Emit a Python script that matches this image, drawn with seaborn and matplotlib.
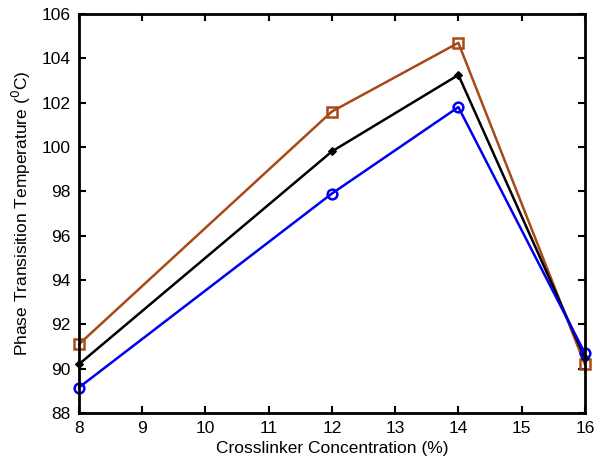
import matplotlib
matplotlib.use("Agg")
import matplotlib.pyplot as plt
import seaborn as sns
import pandas as pd

concentration = [8, 12, 14, 16]
series_a = [91.1, 101.6, 104.7, 90.2]   # brown squares
series_b = [90.2, 99.8, 103.25, 90.5]   # black diamonds
series_c = [89.15, 97.9, 101.8, 90.7]   # blue circles
series_names = ["A", "B", "C"]
x_ticks = [8, 9, 10, 11, 12, 13, 14, 15, 16]
y_ticks = [88, 90, 92, 94, 96, 98, 100, 102, 104, 106]

sns.set_style("white")
plt.rcParams["font.family"] = ["Liberation Sans", "DejaVu Sans"]
plt.rcParams["text.color"] = "black"
plt.rcParams["axes.labelcolor"] = "black"
plt.rcParams["xtick.color"] = "black"
plt.rcParams["ytick.color"] = "black"

df = pd.DataFrame({
    "x": concentration * 3,
    "y": series_a + series_b + series_c,
    "s": [series_names[0]] * 4 + [series_names[1]] * 4 + [series_names[2]] * 4,
})

fig = plt.figure(figsize=(5.98, 4.67), dpi=100)
ax = fig.add_axes([0.132, 0.1156, 0.846, 0.8544])

palette = {"A": "#a84a18", "B": "#000000", "C": "#0000ee"}
markers = {"A": "s", "B": "D", "C": "o"}
sns.lineplot(data=df, x="x", y="y", hue="s", style="s", palette=palette,
             markers=markers, dashes=False, linewidth=1.8, markersize=7,
             ax=ax, legend=False)
for line in ax.lines:
    col = line.get_color()
    line.set_clip_on(False)
    line.set_markeredgecolor(col)
    if line.get_marker() in ("s", "o"):
        line.set_markerfacecolor("none")
        line.set_markeredgewidth(1.8)
        line.set_markersize(7)
    elif line.get_marker() == "D":
        line.set_markerfacecolor(col)
        line.set_markersize(4.5)

ax.set_xlim(8, 16)
ax.set_ylim(88, 106)
ax.set_xticks(x_ticks)
ax.set_yticks(y_ticks)
ax.tick_params(direction="in", length=5, width=1.5, labelsize=12.5,
               colors="black", top=True, right=True, bottom=True, left=True, pad=6)
for sp in ax.spines.values():
    sp.set_visible(True)
    sp.set_linewidth(2)
    sp.set_color("black")
ax.set_xlabel("Crosslinker Concentration (%)", fontsize=12.5, labelpad=3, color="black")
ax.set_ylabel("Phase Transisition Temperature ($^{0}$C)", fontsize=12.5, labelpad=6, color="black")

fig.savefig("out.png", dpi=100)
